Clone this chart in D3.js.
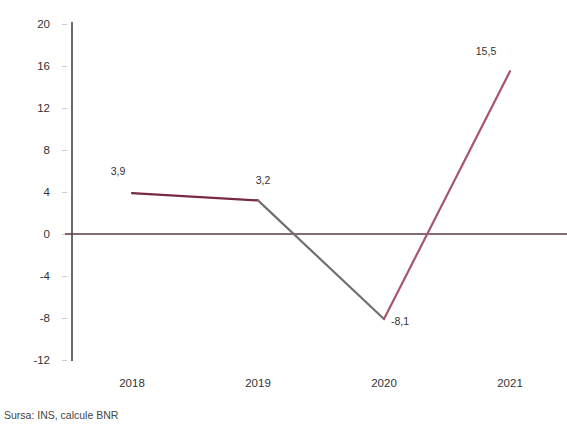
<!DOCTYPE html>
<html><head><meta charset="utf-8">
<script src="https://cdn.jsdelivr.net/npm/d3@7"></script>
<style>body{margin:0;background:#fff}svg{display:block}text{font-family:"Liberation Sans",Arial,sans-serif}</style>
</head><body><svg id="c" width="567" height="427"></svg>
<script>
const years = ["2018","2019","2020","2021"];
const values = [3.9, 3.2, -8.1, 15.5];
const valueLabels = ["3,9","3,2","-8,1","15,5"];
const yTicks = [20,16,12,8,4,0,-4,-8,-12];
const segColors = ["#7a2a40","#707070","#a85670"];
const source = "Sursa: INS, calcule BNR";

const svg = d3.select("#c");
const x = d3.scalePoint().domain(years).range([132,510]);
const y = d3.scaleLinear().domain([-12,20]).range([360,24]);

// y axis
const yAxis = svg.append("g").attr("transform","translate(72,0)")
  .call(d3.axisLeft(y).tickValues(yTicks).tickSize(8).tickPadding(14).tickFormat(d=>d));
yAxis.select(".domain").attr("stroke","#444").attr("stroke-width",1.6).attr("d","M0,22V361");
yAxis.selectAll(".tick line").attr("stroke","#ccc").attr("x1",-10).attr("x2",-5);
yAxis.selectAll(".tick text").attr("fill","#333").attr("font-size",11.5);

// zero line
svg.append("line").attr("x1",65).attr("x2",567).attr("y1",y(0)).attr("y2",y(0))
  .attr("stroke","#5a3a44").attr("stroke-width",1.6);

// x labels
svg.append("g").selectAll("text").data(years).join("text")
  .attr("x",d=>x(d)).attr("y",387).attr("text-anchor","middle")
  .attr("font-size",11.5).attr("fill","#333").text(d=>d);

// segments
const pts = years.map((d,i)=>[x(d), y(values[i])]);
for(let i=0;i<pts.length-1;i++){
  svg.append("line").attr("x1",pts[i][0]).attr("y1",pts[i][1])
    .attr("x2",pts[i+1][0]).attr("y2",pts[i+1][1])
    .attr("stroke",segColors[i]).attr("stroke-width",2.2).attr("stroke-linecap","round");
}

// value labels
const offs = [[-14,-18],[5,-16],[16,6],[-24,-16]];
svg.append("g").selectAll("text").data(years).join("text")
  .attr("x",(d,i)=>x(d)+offs[i][0]).attr("y",(d,i)=>y(values[i])+offs[i][1])
  .attr("text-anchor","middle").attr("font-size",10.5).attr("fill","#333")
  .text((d,i)=>valueLabels[i]);

svg.append("text").attr("x",4).attr("y",419).attr("font-size",10.5).attr("fill","#444").text(source);
</script></body></html>
